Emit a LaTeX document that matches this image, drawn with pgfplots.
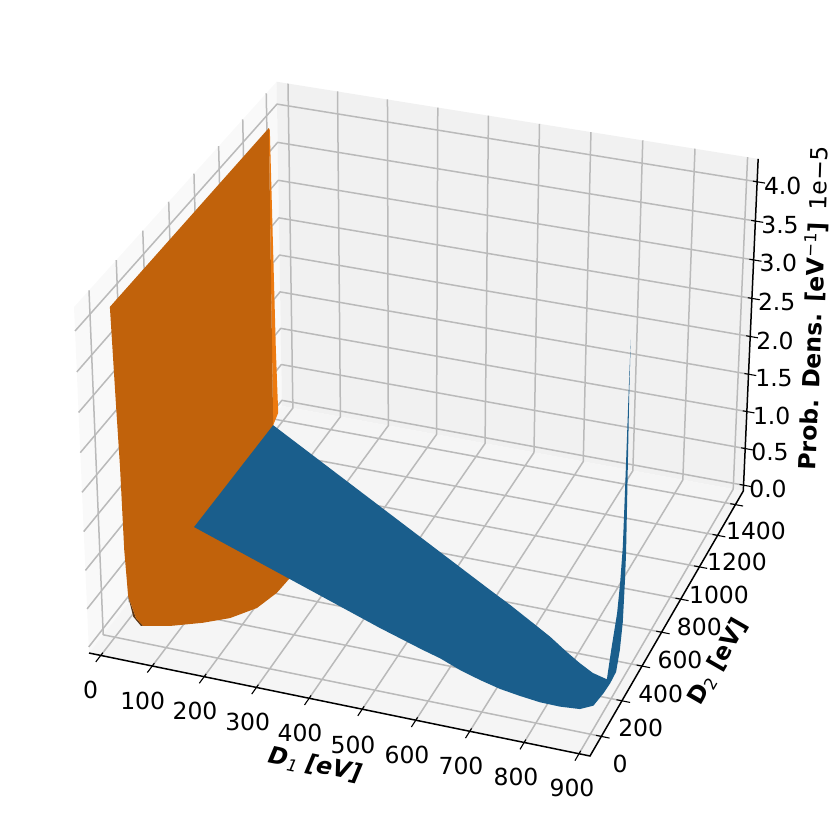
\documentclass[border=0pt]{standalone}
\usepackage{pgfplots}
\usepackage{pgfplotstable}
\usepackage{fontspec}
\setmainfont{DejaVu Sans}
\pgfplotsset{compat=1.18}
\definecolor{gridc}{HTML}{BABABA}
\definecolor{paneL}{HTML}{F9F9F9}
\definecolor{paneB}{HTML}{F1F1F1}
\definecolor{paneF}{HTML}{F5F5F5}
\definecolor{blueS}{HTML}{1A5E8C}
\definecolor{orS}{HTML}{C1620B}
\definecolor{orL}{HTML}{EC7A10}
\definecolor{orD}{HTML}{5A3412}
% Surface outlines: D1 [eV], D2 [eV], P [1e-5/eV]
\pgfplotstableread{
D1 D2 P
5 1292 0.08
597 576 0.095
648 516 0.095
707 442 0.095
749 389 0.095
792 327 0.095
826 281 0.095
857 244 0.095
892 196 0.17
892 232 0.47
892 282 0.835
892 304 1.17
892 321 1.6
892 327 2.34
892 334 3.44
892 340 4.12
892 341 3.42
892 350 2.29
892 356 1.45
892 353 1.10
892 343 0.58
892 321 0.27
892 289 0.057
892 231 0.038
892 165 0.058
890 78 0.095
871 47 0.095
836 39 0.095
799 40.5 0.095
760 52 0.095
720 67 0.095
677.5 92 0.095
634 122 0.095
588 162 0.095
550 187 0.095
453 257 0.095
7 605 0.095
}\blueT
\pgfplotstableread{
D1 D2 P
5 38 4.05
9.2 38 2.91
12.6 38 2.07
14.7 38 1.0
19 38 0.40
33 38 0.13
51 20 0.095
96.5 48 0.095
148 99 0.095
188 152 0.095
221 233 0.095
236 334 0.095
239 405 0.095
241 466 0.095
5 1292 0.08
5 1300 4.04
}\orT
\pgfplotstableread{
D1 D2 P
19 38 0.40
27.5 38 0.145
47.5 17.5 0.095
96.5 48 0.095
51 20 0.095
33 38 0.13
}\orDT
\pgfplotstableread{
D1 D2 P
5 1300 4.04
5 1308 4.0
5 1327 1.05
5 1338 0.16
5 1292 0.08
}\orLT
\def\PU{Pu(\thisrow{D1},\thisrow{D2},\thisrow{P})}
\def\PV{Pv(\thisrow{D1},\thisrow{D2},\thisrow{P})}
\begin{document}
\begin{tikzpicture}[
  declare function={
    Aa(\x)=(\x+23)/943;
    Bb(\y)=(\y+108)/1598;
    Cc(\z)=(\z+0.08)/4.37;
    Ww(\x,\y,\z)=1-0.03644*Aa(\x)+0.09817*Bb(\y)-0.045*Cc(\z);
    Pu(\x,\y,\z)=(479.5*Aa(\x)+220.68*Bb(\y)-18.33*Cc(\z)+89)/Ww(\x,\y,\z);
    Pv(\x,\y,\z)=(75.45*Aa(\x)-207.14*Bb(\y)-359.8*Cc(\z)+653)/Ww(\x,\y,\z);
  },
  lab/.style={font=\fontsize{23.5}{23.5}\selectfont,inner sep=0pt,anchor=center}
]
\useasboundingbox (0,0) rectangle (831pt,831pt);
\begin{axis}[
  at={(0,0)},anchor=south west,
  width=831pt,height=831pt,scale only axis,
  xmin=0,xmax=831,ymin=0,ymax=831,y dir=reverse,
  axis lines=none,ticks=none,clip=false,
  no markers,
  table/row sep=\\,
  grid line/.style={gridc,line width=1.5pt,line join=round},
  axis line/.style={black,line width=1.5pt},
  tick line/.style={black,line width=1.1pt},
]
% panes
\addplot[fill=paneL,draw=none] table[x expr=\PU,y expr=\PV]{D1 D2 P\\ -23 -108 -0.08\\ -23 1490 -0.08\\ -23 1490 4.29\\ -23 -108 4.29\\};
\addplot[fill=paneB,draw=none] table[x expr=\PU,y expr=\PV]{D1 D2 P\\ -23 1490 -0.08\\ 920 1490 -0.08\\ 920 1490 4.29\\ -23 1490 4.29\\};
\addplot[fill=paneF,draw=none] table[x expr=\PU,y expr=\PV]{D1 D2 P\\ -23 -108 -0.08\\ 920 -108 -0.08\\ 920 1490 -0.08\\ -23 1490 -0.08\\};
% grid
\pgfplotsinvokeforeach{0,100,...,900}{
  \addplot[grid line] table[x expr=\PU,y expr=\PV]{D1 D2 P\\ #1 -108 -0.08\\ #1 1490 -0.08\\ #1 1490 4.29\\};
  \addplot[tick line] table[x expr=\PU,y expr=\PV]{D1 D2 P\\ #1 -92 -0.08\\ #1 -146 -0.08\\};
}
\pgfplotsinvokeforeach{0,200,...,1400}{
  \addplot[grid line] table[x expr=\PU,y expr=\PV]{D1 D2 P\\ 920 #1 -0.08\\ -23 #1 -0.08\\ -23 #1 4.29\\};
  \addplot[tick line] table[x expr=\PU,y expr=\PV]{D1 D2 P\\ 910 #1 -0.08\\ 935 #1 -0.08\\};
}
\pgfplotsinvokeforeach{0,0.5,...,4.0}{
  \addplot[grid line] table[x expr=\PU,y expr=\PV]{D1 D2 P\\ -23 -108 #1\\ -23 1490 #1\\ 920 1490 #1\\};
  \addplot[tick line] table[x expr=\PU,y expr=\PV]{D1 D2 P\\ 912 1490 #1\\ 935 1490 #1\\};
}
% axis lines
\addplot[axis line] table[x expr=\PU,y expr=\PV]{D1 D2 P\\ -23 -108 -0.08\\ 920 -108 -0.08\\ 920 1490 -0.08\\ 920 1490 4.29\\};
% surfaces
\addplot[fill=orD,draw=none] table[x expr=\PU,y expr=\PV]{\orDT};
\addplot[fill=orL,draw=none] table[x expr=\PU,y expr=\PV]{\orLT};
\addplot[fill=orS,draw=none] table[x expr=\PU,y expr=\PV]{\orT};
\addplot[fill=blueS,draw=none] table[x expr=\PU,y expr=\PV]{\blueT};
% tick labels
\node[lab] at (axis cs:90.7,690) {0};
\node[lab] at (axis cs:142.7,700.7) {100};
\node[lab] at (axis cs:195,710.7) {200};
\node[lab] at (axis cs:247.7,722) {300};
\node[lab] at (axis cs:300,733) {400};
\node[lab] at (axis cs:353,745) {500};
\node[lab] at (axis cs:407,755) {600};
\node[lab] at (axis cs:461,766) {700};
\node[lab] at (axis cs:516,777) {800};
\node[lab] at (axis cs:572,788) {900};
\node[lab] at (axis cs:620,764) {0};
\node[lab] at (axis cs:640.7,728) {200};
\node[lab] at (axis cs:660.7,694) {400};
\node[lab] at (axis cs:680,660) {600};
\node[lab] at (axis cs:699.3,626.7) {800};
\node[lab] at (axis cs:719,595) {1000};
\node[lab] at (axis cs:737,562.3) {1200};
\node[lab] at (axis cs:756,531) {1400};
\node[lab] at (axis cs:782.7,186) {4.0};
\node[lab] at (axis cs:780,225) {3.5};
\node[lab] at (axis cs:778.3,263.3) {3.0};
\node[lab] at (axis cs:776.7,302.3) {2.5};
\node[lab] at (axis cs:775,340.7) {2.0};
\node[lab] at (axis cs:774,378.3) {1.5};
\node[lab] at (axis cs:771.7,415.7) {1.0};
\node[lab] at (axis cs:770,451.7) {0.5};
\node[lab] at (axis cs:768,489) {0.0};
% axis labels
\node[lab,rotate=-11.6,font=\fontsize{23.5}{23.5}\selectfont\bfseries\itshape] at (axis cs:315,765) {D\textsubscript{\mdseries 1} [eV]};
\node[lab,rotate=60,font=\fontsize{23.5}{23.5}\selectfont\bfseries] at (axis cs:718.3,661.7) {D\textsubscript{\mdseries 2} [eV]};
\node[lab,rotate=87.6,font=\fontsize{23.5}{23.5}\selectfont\bfseries] at (axis cs:812,346) {Prob. Dens. [eV\textsuperscript{\mdseries −1}]};
\node[lab,rotate=88] at (axis cs:819,178) {1e−5};
\end{axis}
\end{tikzpicture}
\end{document}
